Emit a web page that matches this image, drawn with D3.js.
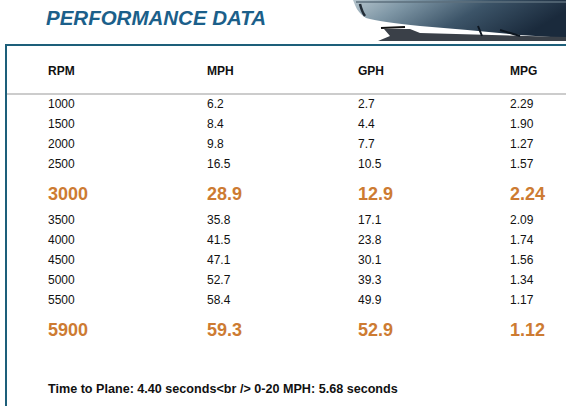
<!DOCTYPE html>
<html>
<head>
<meta charset="utf-8">
<script src="https://cdn.jsdelivr.net/npm/d3@7"></script>
<style>
    html, body { margin: 0; padding: 0; background: #fff; }
    svg { display: block; font-family: "Liberation Sans", Arial, sans-serif; }
</style>
</head>
<body>
<svg id="chart" width="566" height="406"></svg>
<script>
// 表格数据
const columns = ["RPM", "MPH", "GPH", "MPG"];
const rpm = ["1000", "1500", "2000", "2500", "3000", "3500", "4000", "4500", "5000", "5500", "5900"];
const mph = ["6.2", "8.4", "9.8", "16.5", "28.9", "35.8", "41.5", "47.1", "52.7", "58.4", "59.3"];
const gph = ["2.7", "4.4", "7.7", "10.5", "12.9", "17.1", "23.8", "30.1", "39.3", "49.9", "52.9"];
const mpg = ["2.29", "1.90", "1.27", "1.57", "2.24", "2.09", "1.74", "1.56", "1.34", "1.17", "1.12"];
const highlight = ["3000", "5900"];
const title = "PERFORMANCE DATA";
const footer = "Time to Plane: 4.40 seconds<br /> 0-20 MPH: 5.68 seconds";

const svg = d3.select("#chart");

// 右上角的船体图片 (用渐变模拟)
const defs = svg.append("defs");
const grad = defs.append("linearGradient").attr("id", "hull")
    .attr("x1", "0%").attr("y1", "0%").attr("x2", "100%").attr("y2", "30%");
grad.append("stop").attr("offset", "0%").attr("stop-color", "#b5c4cc");
grad.append("stop").attr("offset", "25%").attr("stop-color", "#7f97a6");
grad.append("stop").attr("offset", "60%").attr("stop-color", "#3c5468");
grad.append("stop").attr("offset", "100%").attr("stop-color", "#1a2a3c");

const img = svg.append("g");
img.append("path")
    .attr("d", "M353,0 L566,0 L566,38 L520,35 Q470,30 420,26 Q380,22 366,18 Q358,13 355,5 Z")
    .attr("fill", "url(#hull)");
img.append("path")
    .attr("d", "M360,4 Q362,12 365,16")
    .attr("stroke", "#222c36").attr("stroke-width", 2.5).attr("fill", "none");
img.append("path")
    .attr("d", "M356,2 L566,2")
    .attr("stroke", "#5d6f7c").attr("stroke-width", 1.5).attr("fill", "none");
img.append("path")
    .attr("d", "M384,29 L410,29 L420,33 L566,37 L566,41 L378,41 L390,36 Z")
    .attr("fill", "#3a4048");
img.append("path")
    .attr("d", "M381,28 L405,27")
    .attr("stroke", "#111").attr("stroke-width", 2);
img.append("path")
    .attr("d", "M478,26 L482,36 M500,30 L520,36")
    .attr("stroke", "#0d1620").attr("stroke-width", 2);

// 标题
svg.append("text")
    .attr("x", 46)
    .attr("y", 25)
    .attr("font-size", 20.5)
    .attr("font-weight", "bold")
    .attr("font-style", "italic")
    .attr("fill", "#1b5f8a")
    .text(title);

// 边框
svg.append("path")
    .attr("d", "M6,406 L6,45 L566,45")
    .attr("fill", "none")
    .attr("stroke", "#1d5f7a")
    .attr("stroke-width", 2);

svg.append("line")
    .attr("x1", 7).attr("x2", 566)
    .attr("y1", 94).attr("y2", 94)
    .attr("stroke", "#cccccc")
    .attr("stroke-width", 2);

// 列位置
const x = d3.scaleOrdinal()
    .domain(columns)
    .range([48, 207, 358, 510]);

// 表头
svg.append("g")
    .selectAll("text")
    .data(columns)
    .join("text")
    .attr("x", d => x(d))
    .attr("y", 75)
    .attr("font-size", 12)
    .attr("font-weight", "bold")
    .attr("fill", "#111")
    .text(d => d);

// 行位置: 普通行间距20, 高亮行前32后24
const rows = rpm.map((r, i) => ({
    big: highlight.includes(r),
    values: [r, mph[i], gph[i], mpg[i]]
}));
let yPos = 88;
rows.forEach((row, i) => {
    const prevBig = i > 0 && rows[i - 1].big;
    yPos += row.big ? 32 : (prevBig ? 24 : 20);
    row.y = yPos;
});

const rowG = svg.append("g")
    .selectAll("g")
    .data(rows)
    .join("g")
    .attr("transform", d => `translate(0,${d.y})`);

rowG.selectAll("text")
    .data(d => d.values.map((v, j) => ({ v, col: columns[j], big: d.big })))
    .join("text")
    .attr("x", d => x(d.col))
    .attr("font-size", d => d.big ? 18 : 12)
    .attr("font-weight", d => d.big ? "bold" : "normal")
    .attr("fill", d => d.big ? "#cd7b32" : "#111")
    .text(d => d.v);

// 底部说明
svg.append("text")
    .attr("x", 48)
    .attr("y", 393)
    .attr("font-size", 12.6)
    .attr("font-weight", "bold")
    .attr("fill", "#111")
    .text(footer);
</script>
</body>
</html>
